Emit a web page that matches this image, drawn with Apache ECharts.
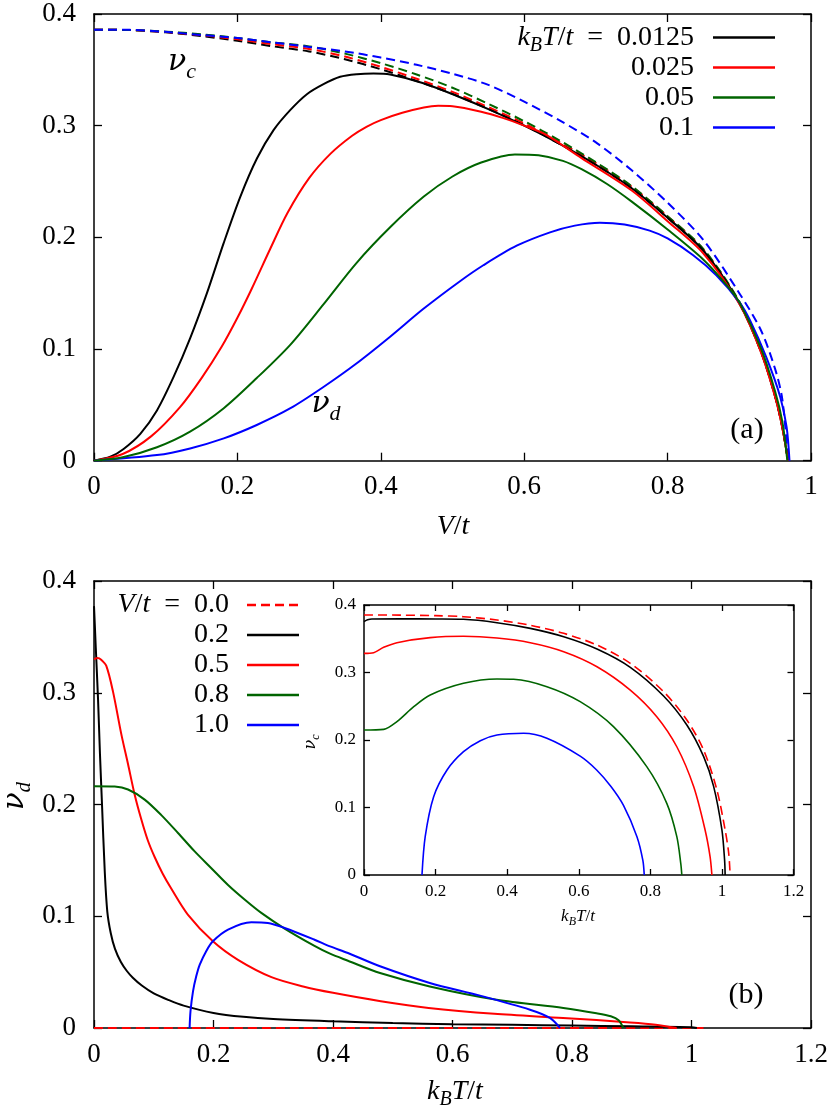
<!DOCTYPE html>
<html><head><meta charset="utf-8">
<script src="https://cdn.jsdelivr.net/npm/echarts@6/dist/echarts.min.js"></script>
<style>html,body{margin:0;padding:0;background:#fff}#c{width:830px;height:1113px}</style>
</head><body><div id="c"></div><script>
// ---------- Panel (a): nu vs V/t ----------
const aTicksX = [0, 0.2, 0.4, 0.6, 0.8, 1];
const aTicksY = [0, 0.1, 0.2, 0.3, 0.4];
const aLegend = ['0.0125', '0.025', '0.05', '0.1'];
// nu_c (dashed) on a common V grid
const aVc = [0,0.05,0.1,0.15,0.2,0.25,0.3,0.35,0.4,0.45,0.5,0.55,0.6,0.65,0.7,0.75,0.8,0.85,0.9,0.93,0.95,0.96,0.968];
const aNuc0125 = [0.386,0.3856,0.3836,0.3803,0.3760,0.3710,0.3665,0.3595,0.3505,0.3400,0.3285,0.3150,0.3005,0.2835,0.2650,0.2440,0.2175,0.1880,0.1410,0.0980,0.0575,0.0300,0];
const aNuc025  = [0.386,0.3856,0.3839,0.3811,0.3773,0.3728,0.3687,0.3619,0.3527,0.3420,0.3303,0.3166,0.3020,0.2850,0.2665,0.2454,0.2187,0.1890,0.1420,0.0990,0.0580,0.0305,0];
const aNuc05   = [0.386,0.3856,0.3842,0.3818,0.3785,0.3745,0.3710,0.3645,0.3560,0.3458,0.3340,0.3195,0.3040,0.2865,0.2672,0.2458,0.2190,0.1895,0.1425,0.0995,0.0585,0.0310,0];
const aNuc1    = [0.386,0.3858,0.3840,0.3812,0.3785,0.3745,0.3705,0.3665,0.3610,0.3545,0.3465,0.3365,0.3215,0.3045,0.2850,0.2600,0.2310,0.1975,0.1500,0.1170,0.0820,0.0550,0];
// nu_d (solid)
const aVd0125 = [0,0.0228,0.0413,0.0646,0.0878,0.111,0.1343,0.1575,0.1807,0.204,0.2272,0.2504,0.2736,0.2969,0.3201,0.3433,0.3666,0.3898,0.413,0.4595,0.5106,0.55,0.6,0.65,0.7,0.75,0.8,0.85,0.9,0.93,0.95,0.96,0.968];
const aNud0125 = [0,0.0035,0.0105,0.0240,0.0450,0.0750,0.1100,0.1500,0.1946,0.2363,0.2706,0.2960,0.3139,0.3282,0.3372,0.3438,0.3461,0.3467,0.3458,0.3380,0.3255,0.3148,0.3000,0.2835,0.2650,0.2440,0.2175,0.1880,0.1410,0.0980,0.0575,0.0300,0];
const aVd025 = [0,0.04,0.08,0.12,0.15,0.178,0.2,0.22,0.246,0.27,0.3,0.33,0.36,0.38,0.4,0.43,0.46,0.48,0.5,0.54,0.57,0.6,0.63,0.68,0.75,0.8,0.85,0.9,0.93,0.95,0.96,0.968];
const aNud025 = [0,0.006,0.022,0.048,0.074,0.102,0.128,0.154,0.190,0.222,0.253,0.275,0.291,0.299,0.305,0.3115,0.3163,0.3178,0.3174,0.3125,0.3070,0.3000,0.2920,0.2710,0.2420,0.2145,0.1855,0.1405,0.0975,0.0570,0.0295,0];
const aVd05 = [0,0.04,0.0878,0.134,0.181,0.227,0.274,0.32,0.366,0.413,0.46,0.5,0.54,0.587,0.62,0.654,0.68,0.715,0.75,0.8,0.85,0.882,0.9,0.93,0.95,0.96,0.967];
const aNud05 = [0,0.003,0.012,0.026,0.047,0.074,0.104,0.140,0.177,0.209,0.2365,0.2545,0.2670,0.2743,0.2735,0.2685,0.2610,0.2480,0.2320,0.2070,0.1800,0.1575,0.1420,0.1010,0.0620,0.0350,0];
const aVd1 = [0,0.0878,0.134,0.181,0.227,0.274,0.32,0.366,0.413,0.4595,0.51,0.543,0.5895,0.636,0.6706,0.7056,0.74,0.775,0.8,0.8357,0.868,0.9,0.9147,0.938,0.957,0.966,0.970];
const aNud1 = [0,0.005,0.011,0.020,0.032,0.047,0.066,0.087,0.111,0.136,0.1605,0.1750,0.1925,0.2045,0.2105,0.2131,0.2115,0.2060,0.1990,0.1840,0.1660,0.1420,0.1260,0.0920,0.0573,0.0300,0];

// ---------- Panel (b): nu_d vs k_B T/t ----------
const bTicksX = [0, 0.2, 0.4, 0.6, 0.8, 1, 1.2];
const bLegend = ['0.0', '0.2', '0.5', '0.8', '1.0'];
const bT00 = [0, 1.02];
const bNu00 = [0, 0];
const bT02 = [0,0.003,0.0067,0.01,0.0134,0.018,0.0223,0.028,0.035,0.045,0.055,0.065,0.08,0.1,0.125,0.15,0.2,0.25,0.3,0.4,0.5,0.6,0.7,0.8,0.9,1.0,1.009];
const bNu02 = [0.3775,0.340,0.295,0.245,0.200,0.140,0.104,0.085,0.071,0.059,0.051,0.045,0.038,0.031,0.025,0.020,0.0135,0.0100,0.0080,0.0060,0.0045,0.0034,0.0028,0.0022,0.0015,0.0007,0];
const bT05 = [0,0.006,0.012,0.0206,0.0318,0.0457,0.057,0.068,0.079,0.09,0.1015,0.115,0.129,0.157,0.199,0.241,0.297,0.35,0.4,0.48,0.56,0.67,0.785,0.897,0.94,0.975];
const bNu05 = [0.330,0.331,0.3295,0.324,0.301,0.263,0.236,0.209,0.187,0.168,0.153,0.138,0.125,0.1015,0.0776,0.0610,0.0455,0.0372,0.0315,0.0240,0.0180,0.0127,0.0090,0.0050,0.0030,0];
const bT08 = [0,0.0346,0.057,0.0848,0.1127,0.1406,0.1685,0.1964,0.2243,0.252,0.28,0.319,0.369,0.395,0.425,0.4787,0.562,0.674,0.7855,0.841,0.865,0.878,0.886];
const bNu08 = [0.2163,0.2160,0.2134,0.2044,0.1905,0.1745,0.1580,0.1430,0.1280,0.1150,0.1030,0.0890,0.0735,0.0665,0.0602,0.0492,0.0372,0.0253,0.0179,0.0132,0.0105,0.0070,0];
const bT10 = [0.16,0.1615,0.1657,0.171,0.177,0.188,0.199,0.2243,0.2633,0.291,0.319,0.369,0.395,0.425,0.4787,0.562,0.646,0.7297,0.763,0.78];
const bNu10 = [0,0.015,0.0328,0.046,0.0567,0.069,0.0776,0.0880,0.0946,0.0940,0.0895,0.0790,0.0730,0.0671,0.0552,0.0403,0.0290,0.0164,0.0090,0];

// ---------- Inset: nu_c vs k_B T/t ----------
const iT00 = [0,0.1,0.2,0.278,0.3715,0.4646,0.558,0.651,0.744,0.837,0.902,0.949,0.986,1.009,1.019,1.023];
const iNu00 = [0.3852,0.3850,0.3842,0.3827,0.3778,0.3700,0.3580,0.3407,0.3136,0.2716,0.2296,0.1850,0.1260,0.0667,0.0320,0];
const iT02 = [0,0.01,0.022,0.1,0.2,0.278,0.3715,0.4646,0.558,0.651,0.744,0.837,0.902,0.949,0.977,1.0,1.0075,1.009];
const iNu02 = [0.3753,0.3780,0.3793,0.3795,0.3793,0.3788,0.3738,0.3654,0.3530,0.3348,0.3077,0.2652,0.2222,0.1753,0.1310,0.0667,0.0220,0];
const iT05 = [0,0.027,0.055,0.092,0.185,0.278,0.3715,0.4646,0.558,0.651,0.744,0.818,0.874,0.921,0.953,0.967,0.972];
const iNu05 = [0.3284,0.3294,0.3373,0.3442,0.3516,0.3536,0.3511,0.3442,0.3309,0.3086,0.2740,0.2346,0.1900,0.1310,0.0667,0.0270,0];
const iT08 = [0,0.055,0.092,0.139,0.185,0.278,0.3715,0.418,0.511,0.604,0.697,0.79,0.846,0.874,0.885,0.888];
const iNu08 = [0.2148,0.2158,0.2272,0.2494,0.2667,0.2840,0.2904,0.2899,0.2790,0.2568,0.2198,0.1605,0.1062,0.0568,0.0173,0];
const iT10 = [0.162,0.171,0.1946,0.232,0.278,0.325,0.3715,0.446,0.511,0.604,0.65,0.69,0.725,0.7626,0.779,0.783];
const iNu10 = [0,0.0568,0.1160,0.1556,0.1827,0.1990,0.2074,0.2099,0.2025,0.1760,0.1555,0.1310,0.1030,0.0568,0.0220,0];

// ---------- build ----------
const BLACK = '#000000', RED = '#ff0000', GREEN = '#006400', BLUE = '#0000ff';
const FONT = 'Liberation Serif';
const GFONT = 'DejaVu Serif';
const zip = (xs, ys) => xs.map((x, i) => [x, ys[i]]);

const grids = [
  {left: 94, top: 14, width: 717, height: 446.7},
  {left: 94, top: 581, width: 717, height: 447},
  {left: 364, top: 605, width: 429.5, height: 270}
];
grids.forEach(g => { g.containLabel = false; g.outerBoundsMode = 'none'; });

function axis(gi, pos, ticks, showLabel, fs, margin, tlen) {
  return {
    type: 'value', gridIndex: gi, position: pos,
    min: ticks[0], max: ticks[ticks.length - 1], interval: ticks[1] - ticks[0],
    axisLine: {show: true, onZero: false, lineStyle: {color: '#000', width: 1.5}},
    axisTick: {show: true, inside: true, length: tlen, lineStyle: {color: '#000', width: 1.3}},
    splitLine: {show: false},
    axisLabel: {show: showLabel, color: '#000', fontFamily: FONT, fontSize: fs, margin: margin,
      showMinLabel: true, showMaxLabel: true, hideOverlap: false}
  };
}
const insTicksX = bTicksX, insTicksY = aTicksY;
const xAxes = [
  axis(0, 'bottom', aTicksX, true, 27, 13, 8),
  axis(0, 'top', aTicksX, false, 27, 13, 8),
  axis(1, 'bottom', bTicksX, true, 27, 13, 8),
  axis(1, 'top', bTicksX, false, 27, 13, 8),
  axis(2, 'bottom', insTicksX, true, 17, 8, 6),
  axis(2, 'top', insTicksX, false, 17, 8, 6)
];
const yAxes = [
  axis(0, 'left', aTicksY, true, 27, 18, 8),
  axis(0, 'right', aTicksY, false, 27, 18, 8),
  axis(1, 'left', aTicksY, true, 27, 18, 8),
  axis(1, 'right', aTicksY, false, 27, 18, 8),
  axis(2, 'left', insTicksY, true, 17, 8, 6),
  axis(2, 'right', insTicksY, false, 17, 8, 6)
];

function line(name, xi, yi, data, color, width, dashed) {
  return {
    name: name, type: 'line', xAxisIndex: xi, yAxisIndex: yi, data: data,
    showSymbol: false, symbol: 'none', smooth: 0.3,
    lineStyle: {color: color, width: width, type: dashed ? [9, 5] : 'solid'},
    itemStyle: {color: color}, silent: true, animation: false
  };
}
const series = [
  line('c0125', 0, 0, zip(aVc, aNuc0125), BLACK, 2, true),
  line('c025', 0, 0, zip(aVc, aNuc025), RED, 2, true),
  line('c05', 0, 0, zip(aVc, aNuc05), GREEN, 2, true),
  line('c1', 0, 0, zip(aVc, aNuc1), BLUE, 2, true),
  line('d0125', 0, 0, zip(aVd0125, aNud0125), BLACK, 2, false),
  line('d025', 0, 0, zip(aVd025, aNud025), RED, 2, false),
  line('d1', 0, 0, zip(aVd1, aNud1), BLUE, 2, false),
  line('d05', 0, 0, zip(aVd05, aNud05), GREEN, 2, false),

  line('b00', 2, 2, zip(bT00, bNu00), RED, 2, true),
  line('b02', 2, 2, zip(bT02, bNu02), BLACK, 2, false),
  line('b05', 2, 2, zip(bT05, bNu05), RED, 2, false),
  line('b08', 2, 2, zip(bT08, bNu08), GREEN, 2, false),
  line('b10', 2, 2, zip(bT10, bNu10), BLUE, 2, false),

  line('i02', 4, 4, zip(iT02, iNu02), BLACK, 1.6, false),
  line('i00', 4, 4, zip(iT00, iNu00), RED, 1.6, true),
  line('i05', 4, 4, zip(iT05, iNu05), RED, 1.6, false),
  line('i08', 4, 4, zip(iT08, iNu08), GREEN, 1.6, false),
  line('i10', 4, 4, zip(iT10, iNu10), BLUE, 1.6, false)
];

function rich(fs) {
  const lh = Math.round(fs * 1.3);
  return {
    i: {fontFamily: FONT, fontStyle: 'italic', fontSize: fs, lineHeight: lh, verticalAlign: 'middle', fill: '#000'},
    g: {fontFamily: GFONT, fontStyle: 'italic', fontSize: Math.round(fs * 0.95), lineHeight: lh, verticalAlign: 'middle', fill: '#000'},
    n: {fontFamily: FONT, fontSize: fs, lineHeight: lh, verticalAlign: 'middle', fill: '#000'},
    s: {fontFamily: FONT, fontStyle: 'italic', fontSize: Math.round(fs * 0.7), lineHeight: Math.round(fs * 0.75), verticalAlign: 'bottom', fill: '#000'}
  };
}
function txt(x, y, text, fs, align, rot) {
  return {type: 'text', x: x, y: y, rotation: rot || 0, silent: true,
    style: {text: text, rich: rich(fs), fontFamily: FONT, fontSize: fs, fill: '#000', align: align || 'center', verticalAlign: 'middle'}};
}
function seg(x1, x2, y, color, dashed) {
  return {type: 'line', silent: true, shape: {x1: x1, y1: y, x2: x2, y2: y},
    style: {stroke: color, lineWidth: 2.5, lineDash: dashed ? [9, 5] : null}};
}
const aColors = [BLACK, RED, GREEN, BLUE];
const bColors = [RED, BLACK, RED, GREEN, BLUE];
const graphics = [];
// legend (a)
aLegend.forEach((lab, k) => {
  const y = 37.5 + 30 * k;
  const t = k === 0 ? '{i|k}{s|B}{i|T}{n|/}{i|t}{n|  =  ' + lab + '}' : '{n|' + lab + '}';
  graphics.push(txt(694, y, t, 28, 'right'));
  graphics.push(seg(713, 775, y, aColors[k], false));
});
// legend (b)
bLegend.forEach((lab, k) => {
  const y = 605 + 30 * k;
  const t = k === 0 ? '{i|V}{n|/}{i|t}{n|  =  ' + lab + '}' : '{n|' + lab + '}';
  graphics.push(txt(229, y, t, 28, 'right'));
  graphics.push(seg(247, 299, y, bColors[k], k === 0));
});
// axis titles & annotations
graphics.push(txt(453, 527, '{i|V}{n|/}{i|t}', 28));
graphics.push(txt(455, 1092, '{i|k}{s|B}{i|T}{n|/}{i|t}', 28));
graphics.push(txt(15, 796, '{g|ν}{s|d}', 30, 'center', Math.PI / 2));
graphics.push(txt(311, 742, '{g|ν}{s|c}', 17, 'center', Math.PI / 2));
graphics.push(txt(578, 917, '{i|k}{s|B}{i|T}{n|/}{i|t}', 17));
graphics.push(txt(182, 62, '{g|ν}{s|c}', 32));
graphics.push(txt(326, 404, '{g|ν}{s|d}', 32));
graphics.push(txt(747, 430, '{n|(a)}', 30));
graphics.push(txt(746, 995, '{n|(b)}', 30));

const chart = echarts.init(document.getElementById('c'), null, {renderer: 'canvas'});
chart.setOption({
  animation: false,
  backgroundColor: '#ffffff',
  grid: grids,
  xAxis: xAxes,
  yAxis: yAxes,
  series: series,
  graphic: graphics
});
</script></body></html>
